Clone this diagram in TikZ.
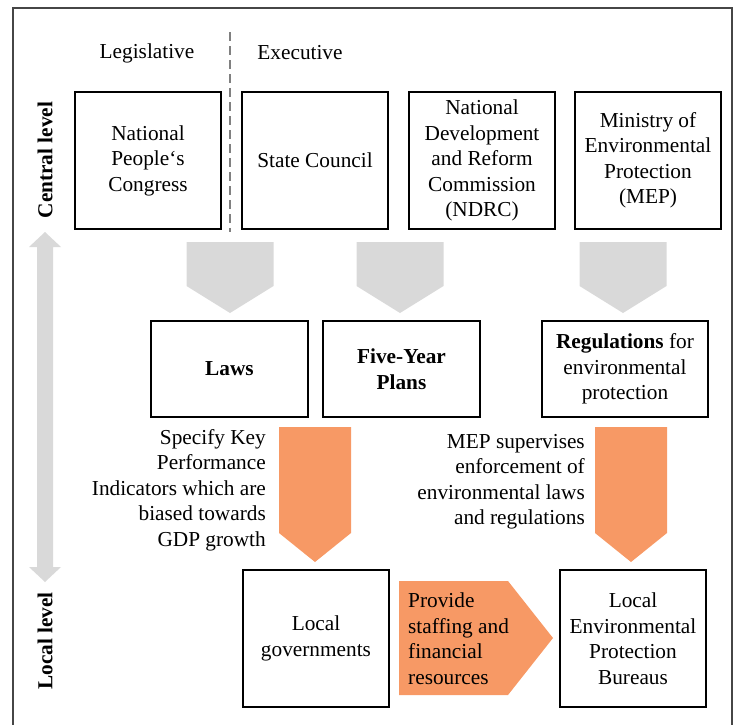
\documentclass[tikz,border=0pt]{standalone}
\usepackage{fontspec}
\setmainfont{Liberation Serif}
\usepackage{xcolor}
\usetikzlibrary{positioning,calc}

\definecolor{blockgray}{RGB}{217,217,217}
\definecolor{blockorange}{RGB}{247,153,101}
\definecolor{dashgray}{RGB}{128,128,128}
\definecolor{framegray}{RGB}{70,70,70}

\tikzset{
    txt/.style={font=\fontsize{21.3pt}{25.5pt}\selectfont, inner sep=0pt},
    bigbox/.style={txt, draw, line width=2pt, align=center, minimum width=146pt, minimum height=137pt},
    midbox/.style={txt, draw, line width=2pt, align=center, minimum width=157pt, minimum height=96pt},
    grayarrow/.style={fill=blockgray},
    orangearrow/.style={fill=blockorange}
}

\begin{document}
\begin{tikzpicture}[x=1pt, y=-1pt]
    \useasboundingbox (0,0) rectangle (734,724);
    \draw[framegray, line width=1.2pt] (13,740) -- (13,8) -- (732,8) -- (732,740);

    % column headers and divider
    \node (legis) [txt] at (147,53) {Legislative};
    \node (exec) [txt] at (300,53) {Executive};
    \draw[dashgray, line width=2.5pt, dash pattern=on 9pt off 5pt] (230,32) -- (230,232);

    % levels
    \node (central) [txt, rotate=90, font=\fontsize{21.3pt}{25.5pt}\selectfont\bfseries] at (45,160) {Central level};
    \node (local) [txt, rotate=90, font=\fontsize{21.3pt}{25.5pt}\selectfont\bfseries] at (45,641) {Local level};
    \fill[grayarrow] (45,232) -- (61,247) -- (53,247) -- (53,567) -- (61,567) -- (45,582)
        -- (29,567) -- (37,567) -- (37,247) -- (29,247) -- cycle;

    % central level bodies
    \node (npc) [bigbox] at (148,160.5) {National\\People‘s\\Congress};
    \node (sc) [bigbox, right=19pt of npc] {State Council};
    \node (ndrc) [bigbox, right=19pt of sc] {National\\Development\\and Reform\\Commission\\(NDRC)};
    \node (mep) [bigbox, right=18pt of ndrc] {Ministry of\\Environmental\\Protection\\(MEP)};

    \fill[grayarrow] (186.5,242) -- (273.5,242) -- (273.5,286) -- (230,313) -- (186.5,286) -- cycle;
    \fill[grayarrow] (356.5,242) -- (443.5,242) -- (443.5,286) -- (400,313) -- (356.5,286) -- cycle;
    \fill[grayarrow] (579.5,242) -- (666.5,242) -- (666.5,286) -- (623,313) -- (579.5,286) -- cycle;

    % instruments
    \node (laws) [midbox, font=\fontsize{21.3pt}{25.5pt}\selectfont\bfseries] at (229.5,369) {Laws};
    \node (fyp) [midbox, right=13pt of laws, font=\fontsize{21.3pt}{25.5pt}\selectfont\bfseries] {Five-Year\\Plans};
    \node (reg) [midbox, minimum width=166pt] at (625,369) {\textbf{Regulations} for\\environmental\\protection};

    \fill[orangearrow] (279,427) -- (351,427) -- (351,533) -- (315,562) -- (279,533) -- cycle;
    \fill[orangearrow] (595,427) -- (667,427) -- (667,533) -- (631,562) -- (595,533) -- cycle;
    \node (kpi) [txt, align=right, anchor=east] at (266,490) {Specify Key\\Performance\\Indicators which are\\biased towards\\GDP growth};
    \node (superv) [txt, align=right, anchor=east] at (585,481.5) {MEP supervises\\enforcement of\\environmental laws\\and regulations};

    % local level bodies
    \node (lgov) [bigbox] at (316,638.5) {Local\\governments};
    \node (lepb) [bigbox] at (633,638.5) {Local\\Environmental\\Protection\\Bureaus};

    \fill[orangearrow] (399,581) -- (508,581) -- (553,638) -- (508,695) -- (399,695) -- cycle;
    \node (staff) [txt, align=left, anchor=west] at (408,638.5) {Provide\\staffing and\\financial\\resources};
\end{tikzpicture}
\end{document}
